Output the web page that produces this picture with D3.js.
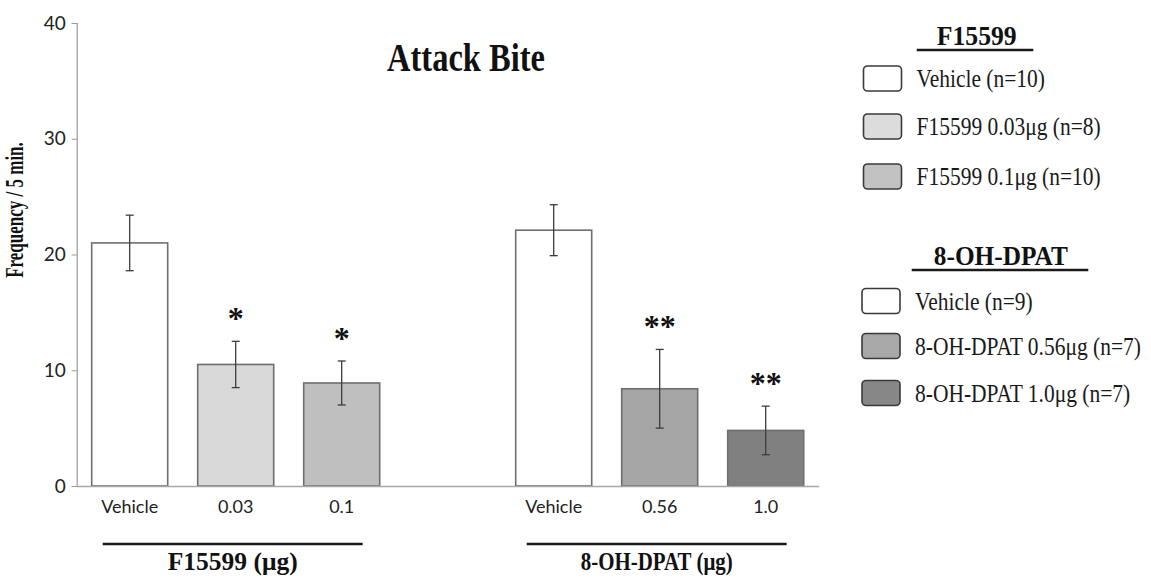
<!DOCTYPE html>
<html>
<head>
<meta charset="utf-8">
<script src="https://cdn.jsdelivr.net/npm/d3@7"></script>
<style>
  html, body { margin: 0; padding: 0; background: #ffffff; }
  svg { display: block; }
</style>
</head>
<body>
<script>
// ---------- data ----------
const slotKeys   = ["f_veh", "f_003", "f_01", "gap", "d_veh", "d_056", "d_10"];
const barKeys    = ["f_veh", "f_003", "f_01", "d_veh", "d_056", "d_10"];
const tickLabels = ["Vehicle", "0.03", "0.1", "Vehicle", "0.56", "1.0"];
const means      = [21.0, 10.5, 8.9, 22.1, 8.4, 4.8];
const errors     = [2.4, 2.0, 1.9, 2.2, 3.4, 2.1];
const stars      = ["", "*", "*", "", "**", "**"];
const yTicks     = [0, 10, 20, 30, 40];
const groupNames = ["F15599 (μg)", "8-OH-DPAT (μg)"];
const groupBars  = [["f_veh", "f_01"], ["d_veh", "d_10"]];
const legendTitles = ["F15599", "8-OH-DPAT"];
const legendItems1 = ["Vehicle (n=10)", "F15599 0.03μg (n=8)", "F15599 0.1μg (n=10)"];
const legendItems2 = ["Vehicle (n=9)", "8-OH-DPAT 0.56μg (n=7)", "8-OH-DPAT 1.0μg (n=7)"];

// ---------- styles ----------
const barFills   = ["#ffffff", "#d9d9d9", "#bfbfbf", "#ffffff", "#a6a6a6", "#808080"];
const legFills1  = ["#ffffff", "#dcdcdc", "#c2c2c2"];
const legFills2  = ["#ffffff", "#a8a8a8", "#878787"];

const W = 1151, H = 581;
const svg = d3.select("body").append("svg").attr("width", W).attr("height", H);

const x = d3.scaleBand().domain(slotKeys).range([76.7, 818.7])
  .paddingInner(0.283).paddingOuter(0.1415);
const y = d3.scaleLinear().domain([0, 40]).range([486, 23]);

// y axis
const yAxis = svg.append("g").attr("transform", "translate(76.7,0)")
  .call(d3.axisLeft(y).tickValues(yTicks).tickSize(5).tickPadding(6));
yAxis.attr("font-size", null).attr("font-family", null);
yAxis.select(".domain").attr("stroke", "#9a9a9a").attr("stroke-width", 1.2);
yAxis.selectAll(".tick line").attr("stroke", "#9a9a9a");
yAxis.selectAll(".tick text").style("font-family", "Lato").style("font-size", "19px")
  .attr("fill", "#222");

// bars
const bw = x.bandwidth();
svg.append("g").selectAll("rect").data(barKeys).join("rect")
  .attr("x", d => x(d)).attr("width", bw)
  .attr("y", (d, i) => y(means[i])).attr("height", (d, i) => y(0) - y(means[i]))
  .attr("fill", (d, i) => barFills[i]).attr("stroke", "#6e6e6e").attr("stroke-width", 1.6);

// x axis (baseline + labels)
const xAxis = svg.append("g").attr("transform", `translate(0,${y(0)})`)
  .call(d3.axisBottom(x).tickValues(barKeys).tickSize(0).tickPadding(14)
    .tickFormat(d => tickLabels[barKeys.indexOf(d)]));
xAxis.attr("font-size", null).attr("font-family", null);
xAxis.select(".domain").attr("stroke", "#a8a8a8").attr("stroke-width", 1.4);
xAxis.selectAll(".tick text").style("font-family", "Lato").style("font-size", "18px")
  .attr("fill", "#222");

// error bars
const eb = svg.append("g").attr("stroke", "#3c3c3c").attr("stroke-width", 1.3);
barKeys.forEach((k, i) => {
  const cx = x(k) + bw / 2;
  const t = y(means[i] + errors[i]), b = y(means[i] - errors[i]);
  eb.append("line").attr("x1", cx).attr("x2", cx).attr("y1", t).attr("y2", b);
  eb.append("line").attr("x1", cx - 4).attr("x2", cx + 4).attr("y1", t).attr("y2", t);
  eb.append("line").attr("x1", cx - 4).attr("x2", cx + 4).attr("y1", b).attr("y2", b);
});

// significance stars
svg.append("g").selectAll("text").data(barKeys).join("text")
  .attr("x", d => x(d) + bw / 2)
  .attr("y", (d, i) => y(means[i] + errors[i]) - 12)
  .attr("text-anchor", "middle")
  .style("font-family", "Liberation Serif").style("font-weight", "bold").style("font-size", "32px")
  .attr("fill", "#111")
  .text((d, i) => stars[i]);

// title
svg.append("text").attr("transform", "translate(466,70.5) scale(1,1.2)").attr("text-anchor", "middle")
  .style("font-family", "Liberation Serif").style("font-weight", "bold").style("font-size", "32.5px")
  .attr("fill", "#111").text("Attack Bite");

// y label
svg.append("text").attr("transform", "translate(22.5,210) rotate(-90) scale(1,1.5)")
  .attr("text-anchor", "middle")
  .style("font-family", "Liberation Serif").style("font-weight", "bold").style("font-size", "17px")
  .attr("fill", "#111").text("Frequency / 5 min.");

// group underlines + labels
const groupLabelW = [130, 152];
groupBars.forEach((g, i) => {
  const x1 = x(g[0]) + 11, x2 = x(g[1]) + bw - 17;
  svg.append("line").attr("x1", x1).attr("x2", x2).attr("y1", 544).attr("y2", 544)
    .attr("stroke", "#1a1a1a").attr("stroke-width", 2.6);
  svg.append("text").attr("x", (x1 + x2) / 2).attr("y", 570).attr("text-anchor", "middle")
    .style("font-family", "Liberation Serif").style("font-weight", "bold").style("font-size", "25px")
    .attr("textLength", groupLabelW[i]).attr("lengthAdjust", "spacingAndGlyphs")
    .attr("fill", "#111").text(groupNames[i]);
});

// legends
function legend(title, items, fills, opts) {
  const g = svg.append("g");
  g.append("text").attr("transform", `translate(${opts.titleX},${opts.titleY}) scale(1,1.08)`)
    .attr("text-anchor", "middle")
    .style("font-family", "Liberation Serif").style("font-weight", "bold").style("font-size", opts.titleFs + "px")
    .attr("fill", "#111").text(title);
  g.append("line").attr("x1", opts.ulX1).attr("x2", opts.ulX2)
    .attr("y1", opts.titleY + 5).attr("y2", opts.titleY + 5)
    .attr("stroke", "#1a1a1a").attr("stroke-width", 2.4);
  items.forEach((t, i) => {
    g.append("rect").attr("x", opts.boxX).attr("y", opts.boxY[i]).attr("width", 38).attr("height", 25)
      .attr("rx", 4).attr("fill", fills[i]).attr("stroke", "#3a3a3a").attr("stroke-width", 1.6);
    g.append("text").attr("transform", `translate(${opts.textX},${opts.boxY[i] + 21}) scale(1,1.22)`)
      .style("font-family", "Liberation Serif").style("font-size", "21.5px")
      .attr("fill", "#1a1a1a").text(t);
  });
}
legend(legendTitles[0], legendItems1, legFills1, {
  titleX: 976.7, titleY: 45, titleFs: 25.7, ulX1: 916.7, ulX2: 1033.3,
  boxX: 863.5, boxY: [66, 114, 164], textX: 916.5
});
legend(legendTitles[1], legendItems2, legFills2, {
  titleX: 1000.8, titleY: 265, titleFs: 25.3, ulX1: 911.7, ulX2: 1088.3,
  boxX: 862, boxY: [288.5, 333.5, 380.5], textX: 915
});
</script>
</body>
</html>
